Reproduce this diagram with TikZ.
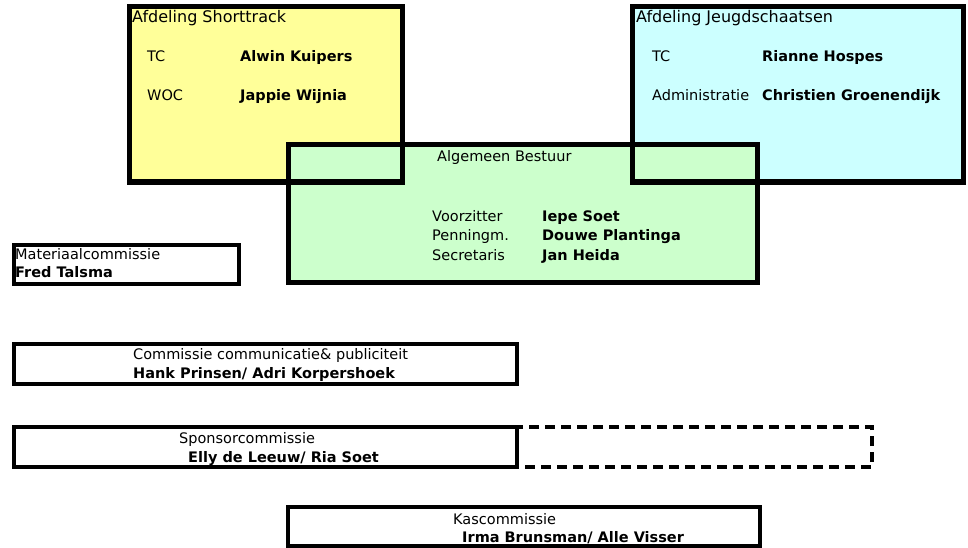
\documentclass[tikz,border=0pt]{standalone}
\usepackage{fontspec}
\setmainfont{DejaVu Sans}
\usetikzlibrary{positioning}

\definecolor{shortyellow}{HTML}{FFFF99}
\definecolor{jeugdcyan}{HTML}{CCFFFF}
\definecolor{bestuurgreen}{HTML}{CCFFCC}

\begin{document}
\begin{tikzpicture}[
    x=1pt, y=-1pt,
    font=\fontsize{14.5}{17}\selectfont,
    % Define styles
    area/.style={
        rectangle,
        inner sep=0pt,
        outer sep=0pt
    },
    frame/.style={
        draw=black,
        line width=5pt
    },
    thinframe/.style={
        draw=black,
        line width=4pt
    },
    label/.style={
        anchor=base west,
        inner sep=0pt
    },
    heading/.style={
        anchor=base west,
        inner sep=0pt,
        font=\fontsize{16}{18}\selectfont
    },
    person/.style={
        anchor=base west,
        inner sep=0pt,
        font=\fontsize{14.5}{17}\selectfont\bfseries
    }
]
\useasboundingbox (0,0) rectangle (968,548);

% Place areas (fills first, borders later)
\node[area, fill=shortyellow, minimum width=273pt, minimum height=175pt] (st) at (265.5,94.5) {};
\node[area, fill=jeugdcyan, minimum width=331pt, minimum height=175pt] (js) at (797.5,94.5) {};
\node[area, fill=bestuurgreen, minimum width=469pt, minimum height=137pt] (ab) at (522.5,213.5) {};

% Committees
\node[area, minimum width=225pt, minimum height=39pt] (mat) at (126.5,264.5) {};
\node[area, minimum width=503pt, minimum height=40pt] (com) at (265.5,364) {};
\node[area, minimum width=503pt, minimum height=40pt] (spo) at (265.5,447) {};
\node[area, minimum width=355pt, minimum height=40pt] (spx) at (694.5,447) {};
\node[area, minimum width=472pt, minimum height=39pt] (kas) at (524,526.5) {};

% Borders
\path[frame] (st.north west) rectangle (st.south east);
\path[frame] (js.north west) rectangle (js.south east);
\path[frame] (ab.north west) rectangle (ab.south east);
\path[thinframe] (mat.north west) rectangle (mat.south east);
\path[thinframe] (com.north west) rectangle (com.south east);
\path[thinframe, dash pattern=on 10pt off 6pt] (spx.north west) rectangle (spx.south east);
\path[thinframe] (spo.north west) rectangle (spo.south east);
\path[thinframe] (kas.north west) rectangle (kas.south east);

% Afdeling Shorttrack
\node[heading] (sttitle) at (132,23) {Afdeling Shorttrack};
\node[label] (sttc) at (147,62) {TC};
\node[person] (sttcname) at (240,62) {Alwin Kuipers};
\node[label] (stwoc) at (147,101) {WOC};
\node[person] (stwocname) at (240,101) {Jappie Wijnia};

% Afdeling Jeugdschaatsen
\node[heading] (jstitle) at (636,23) {Afdeling Jeugdschaatsen};
\node[label] (jstc) at (652,62) {TC};
\node[person] (jstcname) at (762,62) {Rianne Hospes};
\node[label] (jsadm) at (652,101) {Administratie};
\node[person] (jsadmname) at (762,101) {Christien Groenendijk};

% Algemeen Bestuur
\node[label] (abtitle) at (437,161) {Algemeen Bestuur};
\node[label] (abvz) at (432,221) {Voorzitter};
\node[person] (abvzname) at (542,221) {Iepe Soet};
\node[label] (abpm) at (432,240) {Penningm.};
\node[person] (abpmname) at (542,240) {Douwe Plantinga};
\node[label] (absc) at (432,260) {Secretaris};
\node[person] (abscname) at (542,260) {Jan Heida};

% Commissies
\node[label] (mattitle) at (15,259) {Materiaalcommissie};
\node[person] (matname) at (15,277) {Fred Talsma};
\node[label] (comtitle) at (133,359) {Commissie communicatie\& publiciteit};
\node[person] (comname) at (133,378) {Hank Prinsen/ Adri Korpershoek};
\node[label] (spotitle) at (179,443) {Sponsorcommissie};
\node[person] (sponame) at (188,462) {Elly de Leeuw/ Ria Soet};
\node[label] (kastitle) at (453,524) {Kascommissie};
\node[person] (kasname) at (462,542) {Irma Brunsman/ Alle Visser};

\end{tikzpicture}
\end{document}
